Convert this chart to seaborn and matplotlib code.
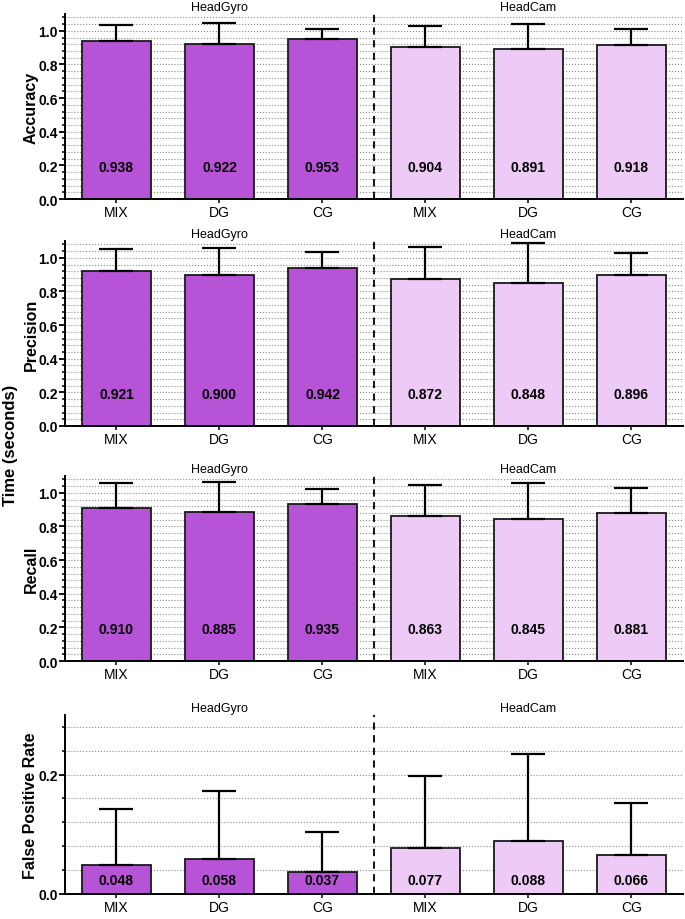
import numpy as np
import pandas as pd
import matplotlib
matplotlib.use('Agg')
import matplotlib.pyplot as plt
import matplotlib.transforms as mtransforms
from matplotlib.ticker import MultipleLocator, FormatStrFormatter
import seaborn as sns

# data
devices = ['HeadGyro', 'HeadGyro', 'HeadGyro', 'HeadCam', 'HeadCam', 'HeadCam']
methods = ['MIX', 'DG', 'CG', 'MIX', 'DG', 'CG']

accuracy = [0.938, 0.922, 0.953, 0.904, 0.891, 0.918]
accuracy_sd = [0.098, 0.123, 0.059, 0.126, 0.149, 0.092]

precision = [0.921, 0.900, 0.942, 0.872, 0.848, 0.896]
precision_sd = [0.132, 0.160, 0.093, 0.191, 0.241, 0.132]

recall = [0.910, 0.885, 0.935, 0.863, 0.845, 0.881]
recall_sd = [0.148, 0.181, 0.089, 0.183, 0.211, 0.150]

fpr = [0.048, 0.058, 0.037, 0.077, 0.088, 0.066]
fpr_sd = [0.094, 0.115, 0.067, 0.121, 0.146, 0.087]

gyro_color = '#B653D6'
cam_color = '#EECBF7'

sns.set_style('ticks')
plt.rcParams['font.family'] = ['Liberation Sans', 'DejaVu Sans']
for key in ['text.color', 'axes.labelcolor', 'xtick.color', 'ytick.color']:
    plt.rcParams[key] = 'black'

fig = plt.figure(figsize=(6.85, 9.2), dpi=100)

# name, values, sd, y top, value-label height, axes bottom, axes height (figure fractions)
panels = [
    ('Accuracy', accuracy, accuracy_sd, 1.10, 0.19, 0.7826, 0.2011),
    ('Precision', precision, precision_sd, 1.10, 0.19, 0.5359, 0.2011),
    ('Recall', recall, recall_sd, 1.10, 0.19, 0.2804, 0.2011),
    ('False Positive Rate', fpr, fpr_sd, 0.30, 0.024, 0.0272, 0.1946),
]

for name, vals, sds, top, label_y, bottom, height in panels:
    ax = fig.add_axes([0.0949, bottom, 0.902, height])
    df = pd.DataFrame({'device': devices, 'method': methods, 'value': vals})
    df['key'] = df['device'] + ' ' + df['method']
    colors = [gyro_color if d == 'HeadGyro' else cam_color for d in devices]

    ax.yaxis.set_major_locator(MultipleLocator(0.2))
    ax.yaxis.set_minor_locator(MultipleLocator(0.04))
    ax.yaxis.grid(True, which='both', ls=':', color='#8a8a8a', lw=0.8, zorder=0)
    ax.set_axisbelow(True)

    sns.barplot(data=df, x='key', y='value', hue='key', palette=colors, legend=False,
                width=0.67, edgecolor='#1a1a1a', linewidth=1.3, errorbar=None,
                saturation=1, ax=ax, zorder=2)
    x = np.arange(len(vals))
    ax.errorbar(x, vals, yerr=[np.zeros(len(sds)), sds], fmt='none', ecolor='black',
                elinewidth=1.6, capsize=12, capthick=1.6, zorder=3)

    for xi, v in zip(x, vals):
        ax.text(xi, label_y, f'{v:.3f}', ha='center', va='center',
                fontsize=10, fontweight='bold', zorder=4)

    ax.axvline(2.5, color='black', ls=(0, (4, 3)), lw=1.3, zorder=3)

    trans = mtransforms.blended_transform_factory(ax.transData, ax.transAxes)
    off = mtransforms.offset_copy(trans, fig=fig, y=5, units='points')
    ax.text(1, 1.0, 'HeadGyro', transform=off, ha='center', va='center', fontsize=9)
    ax.text(4, 1.0, 'HeadCam', transform=off, ha='center', va='center', fontsize=9)

    ax.set_xlim(-0.5, 5.5)
    ax.set_ylim(0, top)
    ax.set_xticks(x)
    ax.set_xticklabels(methods, fontsize=10)
    ax.yaxis.set_major_formatter(FormatStrFormatter('%.1f'))
    for lab in ax.get_yticklabels():
        lab.set_fontweight('bold')
        lab.set_fontsize(10)
    ax.set_xlabel('')
    ax.set_ylabel(name, fontsize=11.5, fontweight='bold')
    ax.yaxis.set_label_coords(-0.043, 0.5)

    sns.despine(ax=ax)
    for s in ['left', 'bottom']:
        ax.spines[s].set_linewidth(1.4)
        ax.spines[s].set_color('black')
    ax.tick_params(axis='y', which='major', length=4, width=1.3, pad=1)
    ax.tick_params(axis='y', which='minor', length=2.5, width=1.1)
    ax.tick_params(axis='x', which='major', length=3, width=1.1, pad=1.5)

fig.text(0.016, 0.516, 'Time (seconds)', rotation=90, ha='center', va='center',
         fontsize=12, fontweight='bold')

fig.savefig('out.png', dpi=100)
